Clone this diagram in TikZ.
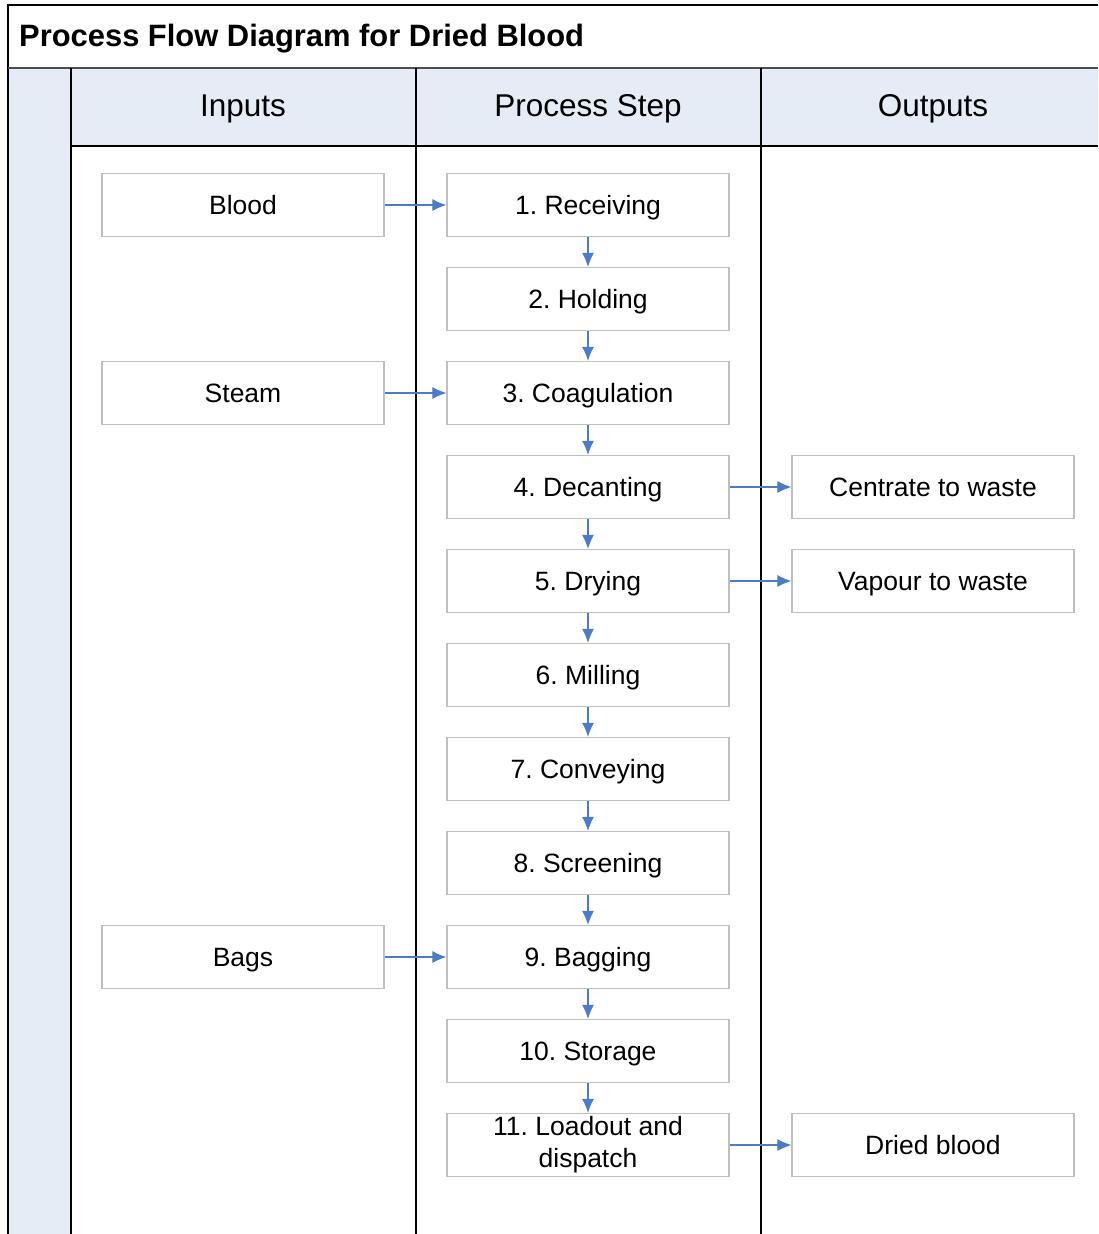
\documentclass[tikz,border=0pt]{standalone}
\usepackage{fontspec}
\setmainfont{Liberation Sans}
\usetikzlibrary{arrows.meta}
\definecolor{laneblue}{HTML}{E6ECF6}
\definecolor{boxgray}{HTML}{BFBFBF}
\definecolor{flowblue}{HTML}{4A7CC8}
\frenchspacing
\begin{document}
\begin{tikzpicture}[x=1pt, y=-1pt,
    stepbox/.style={draw=boxgray, line width=1.2pt, fill=white,
      minimum width=282pt, minimum height=63pt, inner sep=0pt,
      align=center, font=\fontsize{26.5}{32}\selectfont},
    onerow/.style={stepbox, text height=20pt, text depth=1pt},
    headtext/.style={font=\fontsize{31.5}{36}\selectfont},
    flow/.style={draw=flowblue, line width=1.1pt,
      -{Latex[length=14pt,width=12pt]}}]
  \useasboundingbox (0,0) rectangle (1098,1234);

  % lanes
  \fill[laneblue] (8,68) rectangle (71,1234);
  \fill[laneblue] (71,68) rectangle (1098,146);
  \draw[line width=1.3pt] (8,1234) -- (8,5) -- (1098,5);
  \draw[line width=2pt, black!70] (8,68) -- (1098,68);
  \draw[line width=1.3pt] (71,146) -- (1098,146);
  \foreach \x in {71,416,761}
    \draw[line width=1.3pt] (\x,68) -- (\x,1234);

  % titles
  \node[anchor=west, inner sep=0pt, font=\bfseries\fontsize{30.9}{36}\selectfont] (title) at (19,39) {Process Flow Diagram for Dried Blood};
  \node[headtext] (hin) at (243,109) {Inputs};
  \node[headtext] (hstep) at (588,109) {Process Step};
  \node[headtext] (hout) at (933,109) {Outputs};

  % process steps
  \foreach \i/\t in {1/1. Receiving, 2/2. Holding, 3/3. Coagulation,
      4/4. Decanting, 5/5. Drying, 6/6. Milling, 7/7. Conveying,
      8/8. Screening, 9/9. Bagging, 10/10. Storage}
    \node[onerow] (p\i) at (588,{111+94*\i}) {\t};
  \node[stepbox] (p11) at (588,1145) {11. Loadout and\\dispatch};
  \foreach \i [evaluate=\i as \j using int(\i+1)] in {1,...,10}
    \draw[flow] (p\i.south) -- (p\j.north);

  % inputs
  \node[onerow] (blood) at (243,205) {Blood};
  \node[onerow] (steam) at (243,393) {Steam};
  \node[onerow] (bags) at (243,957) {Bags};
  \draw[flow] (blood) -- (p1);
  \draw[flow] (steam) -- (p3);
  \draw[flow] (bags) -- (p9);

  % outputs
  \node[onerow] (centrate) at (933,487) {Centrate to waste};
  \node[onerow] (vapour) at (933,581) {Vapour to waste};
  \node[onerow] (dried) at (933,1145) {Dried blood};
  \draw[flow] (p4) -- (centrate);
  \draw[flow] (p5) -- (vapour);
  \draw[flow] (p11) -- (dried);
\end{tikzpicture}
\end{document}
